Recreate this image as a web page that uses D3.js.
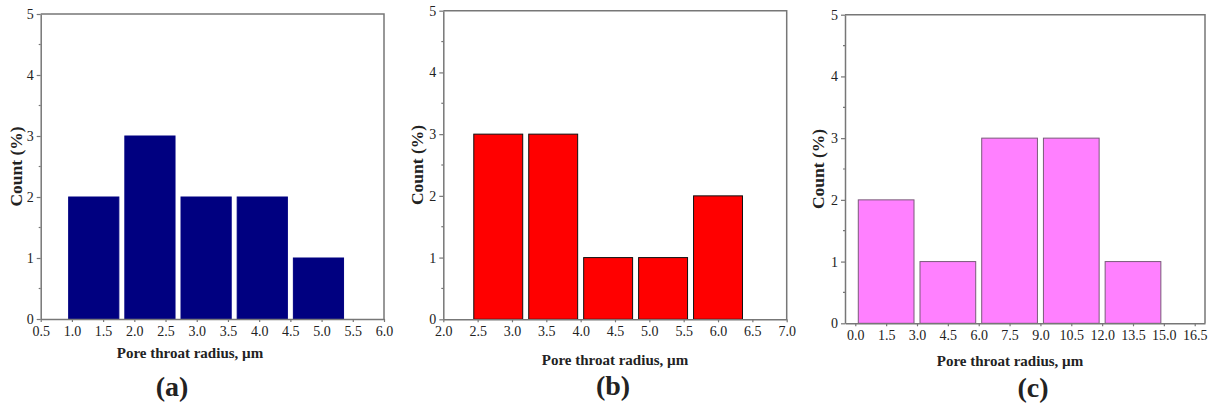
<!DOCTYPE html>
<html>
<head>
<meta charset="utf-8">
<script src="https://cdn.jsdelivr.net/npm/d3@7"></script>
<style>
  body { margin: 0; background: #fff; }
  text { font-family: "Liberation Serif", "Times New Roman", serif; fill: #222; }
  .xTitle { font-weight: bold; font-size: 15px; }
  .yTitle { font-weight: bold; font-size: 17.5px; }
  .panelLabel { font-weight: bold; font-size: 28px; }
</style>
</head>
<body>
<div id="chart"></div>
<script>
// bin edges and counts for each panel
const aEdges  = [0.9, 1.8, 2.7, 3.6, 4.5, 5.4];
const aCounts = [2, 3, 2, 2, 1];
const aTicks  = [0.5, 1.0, 1.5, 2.0, 2.5, 3.0, 3.5, 4.0, 4.5, 5.0, 5.5, 6.0];

const bEdges  = [2.4, 3.2, 4.0, 4.8, 5.6, 6.4];
const bCounts = [3, 3, 1, 1, 2];
const bTicks  = [2.0, 2.5, 3.0, 3.5, 4.0, 4.5, 5.0, 5.5, 6.0, 6.5, 7.0];

const cEdges  = [0, 3, 6, 9, 12, 15];
const cCounts = [2, 1, 3, 3, 1];
const cTicks  = [0.0, 1.5, 3.0, 4.5, 6.0, 7.5, 9.0, 10.5, 12.0, 13.5, 15.0, 16.5];

const yTicks = [0, 1, 2, 3, 4, 5];
const yMinor = [0.5, 1.5, 2.5, 3.5, 4.5];

const xTitle = "Pore throat radius, \u00b5m";
const yTitle = "Count (%)";

const width = 1214;
const height = 407;

const svg = d3.select("#chart").append("svg")
   .attr("width", width)
   .attr("height", height);

const panels = [
  { edges: aEdges, counts: aCounts, ticks: aTicks, domain: [0.5, 6.0], label: "(a)",
    left: 40.7, right: 384, top: 14, bottom: 319,
    fill: "#000080", stroke: "#000080",
    xTitleX: 190, xTitleY: 358, labelX: 172, labelY: 396, yTitleX: 22 },
  { edges: bEdges, counts: bCounts, ticks: bTicks, domain: [2.0, 7.0], label: "(b)",
    left: 443.3, right: 786.7, top: 10.7, bottom: 319.3,
    fill: "#ff0000", stroke: "#111",
    xTitleX: 615, xTitleY: 365, labelX: 613, labelY: 395, yTitleX: 423 },
  { edges: cEdges, counts: cCounts, ticks: cTicks, domain: [-0.5, 17.0], label: "(c)",
    left: 845, right: 1205, top: 14.7, bottom: 323.3,
    fill: "#ff80ff", stroke: "#7a5a7a",
    xTitleX: 1010, xTitleY: 366, labelX: 1033, labelY: 397, yTitleX: 824 }
];

const inset = 3; // gap between neighbouring bars, px per side
const frame = "#777";

panels.forEach(p => {
  const g = svg.append("g");

  const x = d3.scaleLinear().domain(p.domain).range([p.left, p.right]);
  const y = d3.scaleLinear().domain([0, 5]).range([p.bottom, p.top]);

  const bins = p.counts.map((c, i) => ({ x0: p.edges[i], x1: p.edges[i + 1], count: c }));

  g.selectAll("rect.bar")
    .data(bins)
    .enter()
    .append("rect")
    .attr("class", "bar")
    .attr("x", d => x(d.x0) + inset)
    .attr("width", d => x(d.x1) - x(d.x0) - 2 * inset)
    .attr("y", d => y(d.count))
    .attr("height", d => y(0) - y(d.count))
    .style("fill", p.fill)
    .style("stroke", p.stroke)
    .style("stroke-width", 1);

  // top and right frame
  g.append("path")
    .attr("d", `M${p.left},${p.top}H${p.right}V${p.bottom}`)
    .attr("fill", "none")
    .attr("stroke", frame)
    .attr("stroke-width", 1.5);

  const xAxis = d3.axisBottom(x)
    .tickValues(p.ticks)
    .tickSize(3)
    .tickSizeOuter(0)
    .tickPadding(4)
    .tickFormat(d3.format(".1f"));

  const gx = g.append("g")
    .attr("transform", `translate(0,${p.bottom})`)
    .call(xAxis);

  const yAxis = d3.axisLeft(y)
    .tickValues(yTicks)
    .tickSize(4)
    .tickSizeOuter(0)
    .tickPadding(3)
    .tickFormat(d3.format("d"));

  const gy = g.append("g")
    .attr("transform", `translate(${p.left},0)`)
    .call(yAxis);

  gy.selectAll("line.minor")
    .data(yMinor)
    .enter()
    .append("line")
    .attr("class", "minor")
    .attr("x1", -2)
    .attr("x2", 0)
    .attr("y1", d => y(d))
    .attr("y2", d => y(d));

  [gx, gy].forEach(a => {
    a.select(".domain").attr("stroke", frame).attr("stroke-width", 1.5);
    a.selectAll("line").attr("stroke", frame).attr("stroke-width", 1.2);
    a.selectAll("text").style("font-family", '"Liberation Serif", serif').style("font-size", "14px").attr("fill", "#333");
  });

  g.append("text")
    .attr("class", "xTitle")
    .attr("x", p.xTitleX)
    .attr("y", p.xTitleY)
    .style("text-anchor", "middle")
    .text(xTitle);

  g.append("text")
    .attr("class", "yTitle")
    .attr("transform", `translate(${p.yTitleX},${(p.top + p.bottom) / 2}) rotate(-90)`)
    .style("text-anchor", "middle")
    .text(yTitle);

  g.append("text")
    .attr("class", "panelLabel")
    .attr("x", p.labelX)
    .attr("y", p.labelY)
    .style("text-anchor", "middle")
    .text(p.label);
});
</script>
</body>
</html>
